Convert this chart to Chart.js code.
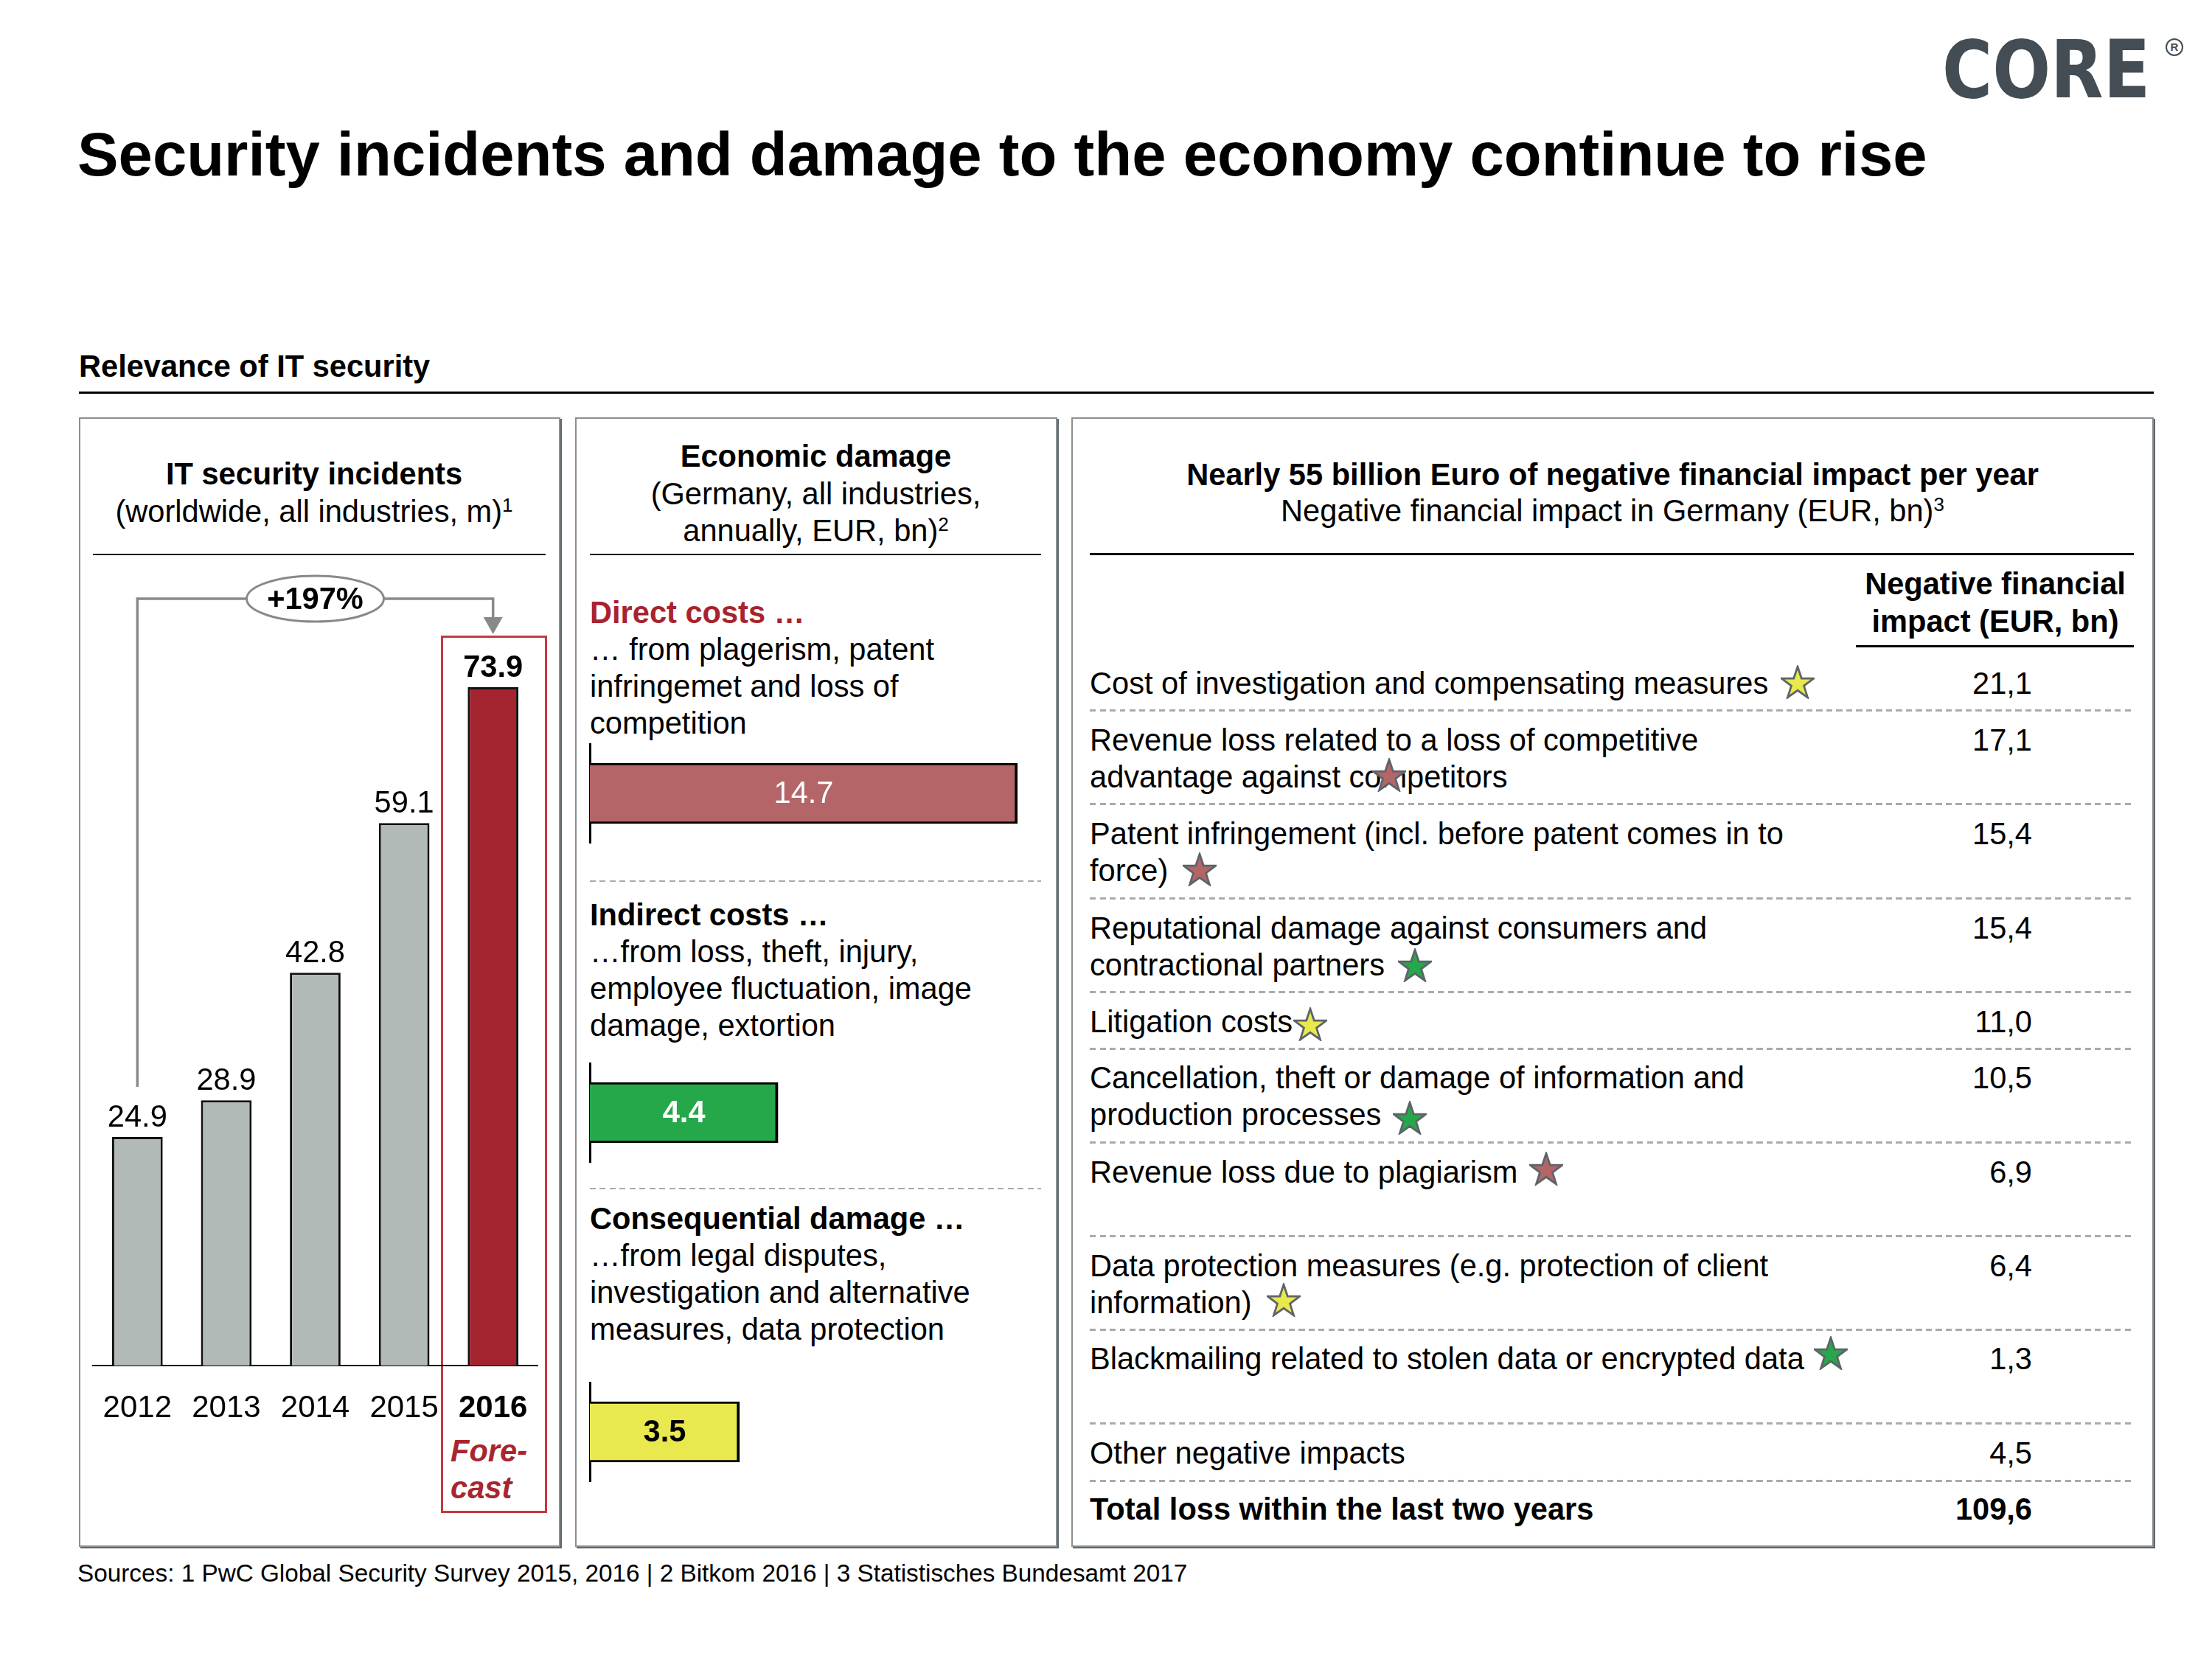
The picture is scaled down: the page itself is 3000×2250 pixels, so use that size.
<!DOCTYPE html>
<html>
<head>
<meta charset="utf-8">
<script src="https://cdn.jsdelivr.net/npm/chart.js@4.4.1/dist/chart.umd.min.js"></script>
<style>
html,body{margin:0;padding:0;background:#fff;}
body{width:3000px;height:2250px;position:relative;overflow:hidden;font-family:"Liberation Sans",Arial,Helvetica,sans-serif;color:#000;}
.abs{position:absolute;white-space:nowrap;}
.t41{font-size:41.6px;line-height:50px;}
.b{font-weight:bold;}
.panel{position:absolute;box-sizing:border-box;border:2px solid #8a9093;box-shadow:2px 2px 0 #5f676b;background:#fff;}
.rule{position:absolute;background:#000;}
.dash{position:absolute;background:repeating-linear-gradient(90deg,#a6acae 0 8px,transparent 8px 13.5px);}
sup{font-size:26px;line-height:0;vertical-align:14px;}
canvas{position:absolute;}
</style>
</head>
<body>
<script>
// ---------------- DATA ----------------
const incidentYears = ['2012', '2013', '2014', '2015', '2016'];
const incidentValues = [24.9, 28.9, 42.8, 59.1, 73.9];
const incidentForecast = [false, false, false, false, true];
const incidentGrowth = '+197%';

const damageCategories = ['Direct costs …', 'Indirect costs …', 'Consequential damage …'];
const damageDescriptions = [
  ['… from plagerism, patent', 'infringemet and loss of', 'competition'],
  ['…from loss, theft, injury,', 'employee fluctuation, image', 'damage, extortion'],
  ['…from legal disputes,', 'investigation and alternative', 'measures, data protection']
];
const damageValues = [14.7, 4.4, 3.5];

const impactItems = [
  ['Cost of investigation and compensating measures'],
  ['Revenue loss related to a loss of competitive', 'advantage against competitors'],
  ['Patent infringement (incl. before patent comes in to', 'force)'],
  ['Reputational damage against consumers and', 'contractional partners'],
  ['Litigation costs'],
  ['Cancellation, theft or damage of information and', 'production processes'],
  ['Revenue loss due to plagiarism'],
  ['Data protection measures (e.g. protection of client', 'information)'],
  ['Blackmailing related to stolen data or encrypted data'],
  ['Other negative impacts']
];
const impactValues = [21.1, 17.1, 15.4, 15.4, 11.0, 10.5, 6.9, 6.4, 1.3, 4.5];
const impactStarTypes = ['consequential', 'direct', 'direct', 'indirect', 'consequential', 'indirect', 'direct', 'consequential', 'indirect', null];
const impactTotalLabel = 'Total loss within the last two years';
const impactTotal = 109.6;

// ---------------- STYLES / LAYOUT ----------------
const FONT = '"Liberation Sans", Arial, Helvetica, sans-serif';
const GREY_BAR = '#b2bab7';
const RED_BAR = '#a3232e';
const typeColors = {direct: '#b36567', indirect: '#24a84a', consequential: '#e9e84e'};
const damageColorKeys = ['direct', 'indirect', 'consequential'];
const damageLabelStyles = [
  {color: '#fff', weight: 'normal'},
  {color: '#fff', weight: 'bold'},
  {color: '#000', weight: 'bold'}
];
const damageAxisMax = [14.7, 10, 10];
const damageBlockTops = [806, 1216, 1628];
const damageChartTops = [1008, 1441, 1874];
const damageDashYs = [1194, 1611];
const rowCenters = [927, 1004, 1131, 1259, 1386, 1462, 1590, 1717, 1843, 1971];
const totalCenter = 2047;
const rowDashYs = [962, 1089, 1217, 1344, 1421, 1548, 1675, 1802, 1929, 2007];
const starPos = [[2438,925],[1884,1051],[1627,1179],[1919,1309],[1777,1389],[1912,1516],[2097,1585],[1741,1763],[2483,1835]];

Chart.defaults.font.family = FONT;

function el(tag, cls, style, html) {
  const e = document.createElement(tag);
  if (cls) e.className = cls;
  Object.assign(e.style, style || {});
  if (html !== undefined) e.innerHTML = html;
  document.body.appendChild(e);
  return e;
}
const px = v => v + 'px';
function text(x, top, html, cls, extra) {
  return el('div', 'abs ' + (cls || 't41'), Object.assign({left: px(x), top: px(top)}, extra || {}), html);
}
function rule(x, y, w, h, color) { el('div', 'rule', {left: px(x), top: px(y), width: px(w), height: px(h), background: color || '#000'}); }
function dash(x, y, w, h) { el('div', 'dash', {left: px(x), top: px(y), width: px(w), height: px(h)}); }
function fmtDe(v) { return v.toFixed(1).replace('.', ','); }

// ---------------- HEADER ----------------
text(105, 160, 'Security incidents and damage to the economy continue to rise', 'b', {fontSize: '83.3px', lineHeight: '100px'});
text(2634, 35, 'CORE', 'b', {fontFamily: '"DejaVu Sans", sans-serif', fontSize: '108px', lineHeight: '120px', color: '#434d53', transform: 'scaleX(0.86)', transformOrigin: '0 0'});
el('div', 'abs', {left: '2937px', top: '52px', width: '24px', height: '24px', border: '2px solid #434d53', borderRadius: '50%', boxSizing: 'border-box', color: '#434d53', font: 'bold 15px ' + FONT, lineHeight: '20px', textAlign: 'center'}, 'R');
text(107, 472, 'Relevance of IT security', 't41 b');
rule(107, 531, 2814, 3);

// ---------------- PANELS ----------------
el('div', 'panel', {left: '107px', top: '566px', width: '653px', height: '1532px'});
el('div', 'panel', {left: '780px', top: '566px', width: '654px', height: '1532px'});
el('div', 'panel', {left: '1453px', top: '566px', width: '1468px', height: '1532px'});

// Panel 1 header
text(126, 618, 'IT security incidents', 't41 b', {width: '600px', textAlign: 'center'});
text(126, 669, '(worldwide, all industries, m)<sup>1</sup>', 't41', {width: '600px', textAlign: 'center'});
rule(126, 751, 614, 2);

// Panel 2 header
text(780, 594, 'Economic damage', 't41 b', {width: '653px', textAlign: 'center'});
text(780, 645, '(Germany, all industries,', 't41', {width: '653px', textAlign: 'center'});
text(780, 695, 'annually, EUR, bn)<sup>2</sup>', 't41', {width: '653px', textAlign: 'center'});
rule(800, 751, 612, 2);

damageCategories.forEach((c, i) => {
  const top = damageBlockTops[i];
  text(800, top, c, 't41 b', i === 0 ? {color: '#a8232d'} : {});
  damageDescriptions[i].forEach((line, j) => text(800, top + 50 * (j + 1), line));
});
damageDashYs.forEach(y => dash(800, y, 612, 2));

// Panel 3 header
text(1453, 619, 'Nearly 55 billion Euro of negative financial impact per year', 't41 b', {width: '1468px', textAlign: 'center'});
text(1453, 668, 'Negative financial impact in Germany (EUR, bn)<sup>3</sup>', 't41', {width: '1468px', textAlign: 'center'});
rule(1478, 750, 1416, 3);
text(2506, 767, 'Negative financial', 't41 b', {width: '400px', textAlign: 'center'});
text(2506, 818, 'impact (EUR, bn)', 't41 b', {width: '400px', textAlign: 'center'});
rule(2517, 875, 377, 3);

impactItems.forEach((lines, i) => {
  const top = rowCenters[i] - 25;
  lines.forEach((line, j) => text(1478, top + 50 * j, line));
  text(2456, top, fmtDe(impactValues[i]), 't41', {width: '300px', textAlign: 'right'});
});
text(1478, totalCenter - 25, impactTotalLabel, 't41 b');
text(2456, totalCenter - 25, fmtDe(impactTotal), 't41 b', {width: '300px', textAlign: 'right'});
rowDashYs.forEach(y => dash(1478, y, 1416, 3));

// stars
function starPoints() {
  const pts = [];
  for (let k = 0; k < 10; k++) {
    const a = (-90 + k * 36) * Math.PI / 180;
    const r = k % 2 ? 19.5 : 50;
    pts.push((50 + r * Math.cos(a)).toFixed(2) + ',' + (55 + r * Math.sin(a)).toFixed(2));
  }
  return pts.join(' ');
}
impactStarTypes.forEach((t, i) => {
  if (!t) return;
  const [cx, cy] = starPos[i];
  const s = 46;
  el('div', 'abs', {left: px(cx - s / 2), top: px(cy - s / 2), width: px(s), height: px(s)},
    `<svg width="${s}" height="${s}" viewBox="0 0 100 100"><polygon points="${starPoints()}" fill="${typeColors[t]}" stroke="#5d6468" stroke-width="6" stroke-linejoin="miter"/></svg>`);
});

// Sources
text(105, 2114, 'Sources: 1 PwC Global Security Survey 2015, 2016 | 2 Bitkom 2016 | 3 Statistisches Bundesamt 2017', '', {fontSize: '33.3px', lineHeight: '40px'});

// Forecast box + label
el('div', 'abs', {left: '598px', top: '862px', width: '144px', height: '1190px', border: '3px solid #c23a43', boxSizing: 'border-box'});
text(611, 1943, 'Fore-', 't41 b', {fontStyle: 'italic', color: '#a8262f'});
text(611, 1993, 'cast', 't41 b', {fontStyle: 'italic', color: '#a8262f'});

// ---------------- CHART 1: IT security incidents ----------------
const c1 = el('canvas', '', {left: '116px', top: '769px'});
c1.width = 634; c1.height = 1292;

const incidentAnnotations = {
  id: 'incidentAnnotations',
  afterDatasetsDraw(chart) {
    const ctx = chart.ctx;
    const bars = chart.getDatasetMeta(0).data;
    ctx.save();
    // value labels
    ctx.textAlign = 'center';
    ctx.textBaseline = 'alphabetic';
    ctx.fillStyle = '#000';
    bars.forEach((b, i) => {
      ctx.font = (incidentForecast[i] ? 'bold ' : '') + '41.6px ' + FONT;
      ctx.fillText(incidentValues[i].toFixed(1), b.x, b.y - 14);
    });
    // growth bracket
    const first = bars[0], last = bars[bars.length - 1], mid = bars[Math.floor(bars.length / 2)];
    const yLine = last.y - 120;
    const tip = last.y - 72;
    ctx.strokeStyle = '#878a88';
    ctx.lineWidth = 3.5;
    ctx.beginPath();
    ctx.moveTo(first.x, first.y - 68);
    ctx.lineTo(first.x, yLine);
    ctx.lineTo(last.x, yLine);
    ctx.lineTo(last.x, tip - 20);
    ctx.stroke();
    ctx.fillStyle = '#878a88';
    ctx.beginPath();
    ctx.moveTo(last.x - 13, tip - 23);
    ctx.lineTo(last.x + 13, tip - 23);
    ctx.lineTo(last.x, tip);
    ctx.closePath();
    ctx.fill();
    // ellipse
    ctx.beginPath();
    ctx.ellipse(mid.x, yLine, 93, 31, 0, 0, Math.PI * 2);
    ctx.fillStyle = '#fff';
    ctx.fill();
    ctx.lineWidth = 3;
    ctx.stroke();
    ctx.fillStyle = '#000';
    ctx.font = 'bold 41.6px ' + FONT;
    ctx.textBaseline = 'middle';
    ctx.fillText(incidentGrowth, mid.x, yLine + 2);
    ctx.restore();
  }
};

new Chart(c1, {
  type: 'bar',
  data: {
    labels: incidentYears,
    datasets: [{
      data: incidentValues,
      backgroundColor: incidentForecast.map(f => f ? RED_BAR : GREY_BAR),
      borderColor: '#111',
      borderWidth: 3,
      borderSkipped: 'bottom',
      barPercentage: 0.57,
      categoryPercentage: 1
    }]
  },
  options: {
    responsive: false, animation: false, devicePixelRatio: 1,
    layout: {padding: {left: 10, right: 21, top: 0, bottom: 0}},
    plugins: {legend: {display: false}, tooltip: {enabled: false}},
    scales: {
      x: {
        grid: {display: false, drawTicks: false},
        border: {display: true, color: '#000', width: 2},
        ticks: {
          color: '#000', padding: 33, maxRotation: 0, autoSkip: false,
          font: ctx => ({family: FONT, size: 42, weight: incidentForecast[ctx.index] ? 'bold' : 'normal'})
        },
        afterFit: s => { s.height = 209; s.paddingLeft = 0; s.paddingRight = 0; }
      },
      y: {display: false, min: 0, max: 87}
    }
  },
  plugins: [incidentAnnotations]
});

// ---------------- CHARTS 2: Economic damage ----------------
const damageLabelPlugin = {
  id: 'damageLabel',
  afterDatasetsDraw(chart) {
    const i = chart.options.plugins.damageLabel.index;
    const st = damageLabelStyles[i];
    const b = chart.getDatasetMeta(0).data[0];
    const ctx = chart.ctx;
    ctx.save();
    ctx.font = st.weight + ' 41.6px ' + FONT;
    ctx.fillStyle = st.color;
    ctx.textAlign = 'center';
    ctx.textBaseline = 'middle';
    ctx.fillText(damageValues[i].toFixed(1), (b.base + b.x) / 2, b.y + 2);
    ctx.restore();
  }
};

damageValues.forEach((v, i) => {
  const cv = el('canvas', '', {left: '797px', top: px(damageChartTops[i])});
  cv.width = 586; cv.height = 136;
  new Chart(cv, {
    type: 'bar',
    data: {
      labels: [damageCategories[i]],
      datasets: [{
        data: [v],
        backgroundColor: typeColors[damageColorKeys[i]],
        borderColor: '#000',
        borderWidth: {top: 3, right: 4, bottom: 3, left: 0},
        borderSkipped: false,
        barThickness: 82
      }]
    },
    options: {
      indexAxis: 'y', responsive: false, animation: false, devicePixelRatio: 1,
      layout: {padding: {left: 0, right: 3, top: 0, bottom: 0}},
      plugins: {legend: {display: false}, tooltip: {enabled: false}, damageLabel: {index: i}},
      scales: {
        x: {display: false, min: 0, max: damageAxisMax[i]},
        y: {
          display: true,
          grid: {display: false, drawTicks: false},
          ticks: {display: false},
          border: {display: true, color: '#000', width: 3},
          afterFit: s => { s.width = 3; }
        }
      }
    },
    plugins: [damageLabelPlugin]
  });
});
</script>
</body>
</html>
